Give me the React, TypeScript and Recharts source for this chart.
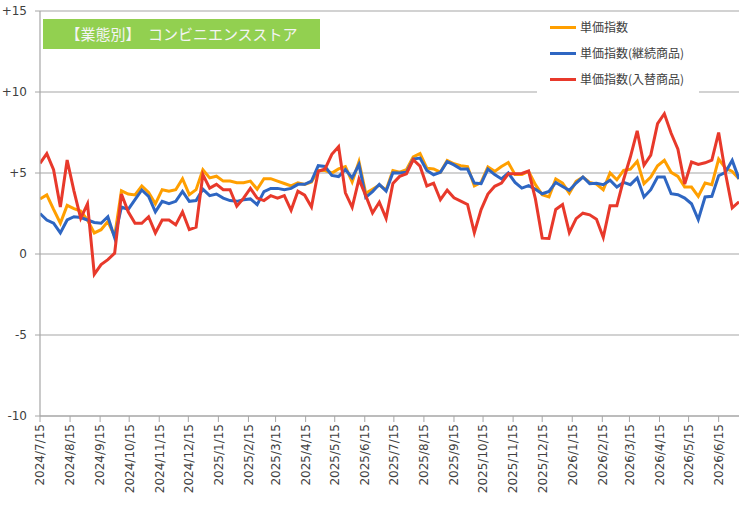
import React from 'react';
import { LineChart, Line, XAxis, YAxis, CartesianGrid, Legend } from 'recharts';

// ---- data ----
const START_DATE = '2024/7/15'; // first weekly observation
const SERIES_NAMES = ['単価指数', '単価指数(継続商品)', '単価指数(入替商品)'];
const SERIES_COLORS = ['#FF9F00', '#2E66C2', '#E8392B'];

const UNIT_PRICE = [
  3.4, 3.65, 2.75, 1.9, 3.0, 2.8, 2.65, 2.1, 1.3, 1.5, 2.0, 1.1, 3.9, 3.7, 3.65, 4.2, 3.8, 3.1,
  3.97, 3.87, 3.97, 4.65, 3.66, 3.97, 5.2, 4.7, 4.8, 4.5, 4.5, 4.4, 4.4, 4.5, 4.0, 4.65, 4.65,
  4.5, 4.35, 4.2, 4.4, 4.3, 4.45, 5.15, 5.15, 5.0, 5.25, 5.4, 4.45, 5.7, 3.75, 4.0, 4.25, 3.95,
  5.15, 5.05, 5.2, 6.0, 6.2, 5.3, 5.25, 5.05, 5.78, 5.57, 5.45, 5.4, 4.2, 4.42, 5.37, 5.1, 5.4,
  5.65, 4.9, 4.9, 5.1, 4.28, 3.66, 3.52, 4.63, 4.38, 3.76, 4.48, 4.75, 4.42, 4.32, 3.97, 5.0,
  4.58, 5.16, 5.24, 5.72, 4.34, 4.75, 5.45, 5.78, 5.04, 4.79, 4.13, 4.13, 3.56, 4.38, 4.28,
  5.86, 5.3, 5.1, 4.65,
];

const UNIT_PRICE_CONTINUED = [
  2.5, 2.1, 1.9, 1.3, 2.1, 2.3, 2.25, 2.1, 1.95, 1.9, 2.3, 1.0, 2.9, 2.75, 3.35, 3.95, 3.55, 2.6,
  3.25, 3.1, 3.25, 3.87, 3.25, 3.3, 4.0, 3.6, 3.7, 3.45, 3.3, 3.25, 3.35, 3.4, 3.05, 3.85, 4.05,
  4.05, 3.97, 4.05, 4.3, 4.3, 4.5, 5.45, 5.4, 4.85, 4.78, 5.22, 4.7, 5.52, 3.5, 3.85, 4.3, 3.88,
  5.02, 5.0, 5.04, 5.86, 5.92, 5.16, 4.89, 5.04, 5.7, 5.5, 5.24, 5.24, 4.38, 4.34, 5.24, 4.9,
  4.63, 5.0, 4.42, 4.07, 4.22, 4.0, 3.72, 3.86, 4.42, 4.17, 3.93, 4.38, 4.75, 4.34, 4.36, 4.28,
  4.55, 4.13, 4.42, 4.28, 4.69, 3.52, 3.97, 4.75, 4.75, 3.72, 3.66, 3.45, 3.1, 2.12, 3.52, 3.56,
  4.83, 5.04, 5.78, 4.63,
];

const UNIT_PRICE_REPLACED = [
  5.6, 6.2, 5.2, 2.9, 5.8, 3.9, 2.2, 3.1, -1.25, -0.65, -0.35, 0.05, 3.7, 2.6, 1.9, 1.9, 2.3, 1.3,
  2.1, 2.1, 1.8, 2.6, 1.5, 1.65, 4.9, 4.07, 4.3, 3.97, 3.97, 2.95, 3.45, 4.05, 3.45, 3.3, 3.6,
  3.45, 3.6, 2.7, 3.88, 3.63, 2.9, 5.1, 5.25, 6.15, 6.62, 3.78, 2.88, 4.62, 3.6, 2.53, 3.2, 2.2,
  4.35, 4.79, 4.95, 5.82, 5.42, 4.2, 4.37, 3.35, 3.94, 3.47, 3.27, 3.06, 1.32, 2.74, 3.7, 4.18,
  4.38, 4.95, 4.95, 4.97, 5.12, 3.4, 0.98, 0.96, 2.75, 3.06, 1.32, 2.18, 2.52, 2.42, 2.15, 1.02,
  2.98, 2.98, 4.6, 6.0, 7.6, 5.48, 6.1, 8.05, 8.66, 7.45, 6.47, 4.32, 5.68, 5.53, 5.63, 5.8, 7.5,
  5.0, 2.85, 3.22,
];

const TICK_LABELS = [
  '2024/7/15', '2024/8/15', '2024/9/15', '2024/10/15', '2024/11/15', '2024/12/15',
  '2025/1/15', '2025/2/15', '2025/3/15', '2025/4/15', '2025/5/15', '2025/6/15',
  '2025/7/15', '2025/8/15', '2025/9/15', '2025/10/15', '2025/11/15', '2025/12/15',
  '2026/1/15', '2026/2/15', '2026/3/15', '2026/4/15', '2026/5/15', '2026/6/15',
];

const Y_TICKS = [-10, -5, 0, 5, 10, 15];
const TITLE = '【業態別】　コンビニエンスストア';

// ---- helpers ----
const DAY = 24 * 3600 * 1000;
const parseDate = (s: string) => {
  const [y, m, d] = s.split('/').map(Number);
  return Date.UTC(y, m - 1, d);
};
const fmtDate = (ts: number) => {
  const d = new Date(ts);
  return `${d.getUTCFullYear()}/${d.getUTCMonth() + 1}/${d.getUTCDate()}`;
};

const startTs = parseDate(START_DATE);
const data = UNIT_PRICE.map((v, i) => ({
  t: startTs + i * 7 * DAY,
  a: v,
  b: UNIT_PRICE_CONTINUED[i],
  c: UNIT_PRICE_REPLACED[i],
}));
const xTicks = TICK_LABELS.map(parseDate);
const xDomain = [data[0].t, data[data.length - 1].t];

const TEXT_COLOR = '#404040';
const GRID_COLOR = '#A6A6A6';
const LATIN_FONT = '"DejaVu Sans", Verdana, sans-serif';
const CJK_FONT = '"Noto Sans CJK JP", "Noto Sans", sans-serif';

const XTick = (props: any) => {
  const { x, y, payload } = props;
  return (
    <text
      x={x}
      y={y}
      transform={`rotate(-90 ${x} ${y})`}
      textAnchor="end"
      dy="0.36em"
      fontSize={12}
      fontFamily={LATIN_FONT}
      fill={TEXT_COLOR}
    >
      {fmtDate(payload.value)}
    </text>
  );
};

const LegendContent = (props: any) => {
  const items = [...(props.payload || [])].sort(
    (p: any, q: any) => SERIES_NAMES.indexOf(p.value) - SERIES_NAMES.indexOf(q.value),
  );
  return (
    <div style={{ width: '100%', height: '100%', background: '#fff' }}>
      {items.map((entry: any, i: number) => (
        <div key={i} style={{ height: 26, position: 'relative' }}>
          <div
            style={{
              position: 'absolute',
              left: 13,
              top: 11.5,
              width: 26,
              height: 3,
              background: entry.color,
            }}
          />
          <span
            style={{
              position: 'absolute',
              left: 43,
              top: 0,
              lineHeight: '26px',
              fontSize: 12,
              fontFamily: CJK_FONT,
              color: TEXT_COLOR,
              whiteSpace: 'nowrap',
            }}
          >
            {entry.value}
          </span>
        </div>
      ))}
    </div>
  );
};

export default function App() {
  return (
    <div style={{ position: 'absolute', left: 0, top: 0, width: 745, height: 510, background: '#fff' }}>
      <LineChart
        width={745}
        height={510}
        data={data}
        margin={{ top: 11, right: 6, bottom: 0, left: 0 }}
      >
        <CartesianGrid vertical={false} stroke={GRID_COLOR} strokeWidth={1.2} />
        <XAxis
          dataKey="t"
          type="number"
          domain={xDomain}
          ticks={xTicks}
          interval={0}
          height={94}
          tick={<XTick />}
          tickSize={6}
          tickLine={{ stroke: GRID_COLOR }}
          axisLine={{ stroke: GRID_COLOR, strokeWidth: 1.2 }}
          allowDataOverflow
        />
        <YAxis
          type="number"
          domain={[-10, 15]}
          ticks={Y_TICKS}
          interval={0}
          width={40}
          tickSize={5}
          tickMargin={8}
          tickLine={{ stroke: GRID_COLOR }}
          axisLine={{ stroke: GRID_COLOR, strokeWidth: 1.2 }}
          tick={{ fontSize: 12, fontFamily: LATIN_FONT, fill: TEXT_COLOR }}
          tickFormatter={(v: number) => (v > 0 ? `+${v}` : `${v}`)}
          allowDataOverflow
        />
        <Legend
          layout="horizontal"
          verticalAlign="middle"
          align="center"
          width={162}
          height={82}
          wrapperStyle={{ left: 537, top: 14, width: 162, height: 82, background: '#fff' }}
          content={<LegendContent />}
        />
        <Line
          type="linear"
          dataKey="a"
          name={SERIES_NAMES[0]}
          stroke={SERIES_COLORS[0]}
          strokeWidth={3}
          dot={false}
          activeDot={false}
          isAnimationActive={false}
        />
        <Line
          type="linear"
          dataKey="b"
          name={SERIES_NAMES[1]}
          stroke={SERIES_COLORS[1]}
          strokeWidth={3}
          dot={false}
          activeDot={false}
          isAnimationActive={false}
        />
        <Line
          type="linear"
          dataKey="c"
          name={SERIES_NAMES[2]}
          stroke={SERIES_COLORS[2]}
          strokeWidth={3}
          dot={false}
          activeDot={false}
          isAnimationActive={false}
        />
      </LineChart>
      <div
        style={{
          position: 'absolute',
          left: 43,
          top: 19,
          width: 277,
          height: 30,
          background: '#92D050',
          color: '#F4F4F4',
          fontFamily: CJK_FONT,
          fontSize: 15,
          lineHeight: '30px',
          textAlign: 'center',
          whiteSpace: 'nowrap',
        }}
      >
        {TITLE}
      </div>
    </div>
  );
}
